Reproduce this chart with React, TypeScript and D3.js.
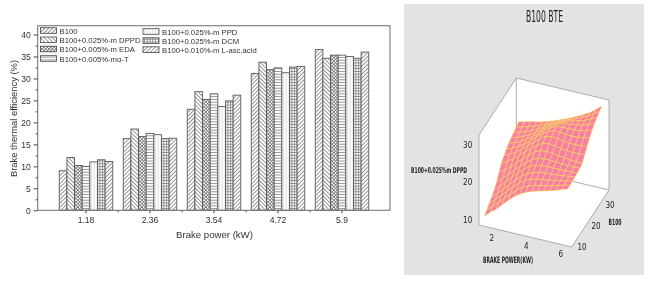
import * as React from 'react'
import * as d3 from 'd3'

const width = 649
const height = 281

const powers = ['1.18', '2.36', '3.54', '4.72', '5.9']
const blends = [
  'B100',
  'B100+0.025%-m DPPD',
  'B100+0.005%-m EDA',
  'B100+0.005%-m\u03b1-T',
  'B100+0.025%-m PPD',
  'B100+0.025%-m DCM',
  'B100+0.010%-m L-asc.acid',
]
const patternIds = ['fwd', 'back', 'cross', 'horiz', 'vert', 'grid', 'fwd']

const bte1 = [9, 12, 10.2, 10, 11, 11.5, 11.1]
const bte2 = [16.3, 18.5, 16.8, 17.5, 17.2, 16.3, 16.4]
const bte3 = [23, 27, 25.2, 26.5, 23.6, 24.9, 26.2]
const bte4 = [31.1, 33.7, 32, 32.4, 31.3, 32.6, 32.7]
const bte5 = [36.6, 34.6, 35.3, 35.3, 35, 34.6, 36]
const bteByPower = [bte1, bte2, bte3, bte4, bte5]

const yTicks = [0, 5, 10, 15, 20, 25, 30, 35, 40]
const yMinor = [2.5, 7.5, 12.5, 17.5, 22.5, 27.5, 32.5, 37.5]

// surface heights, one row per B100 step (front to back), one column per brake power step
const surface = [
  [10.8, 12.2, 13.4, 15, 16.5, 17.9, 19, 19.8, 20.4, 20.9, 21.3, 21.7, 22.2, 22.8, 23.3],
  [11.5, 12.9, 14.2, 15.8, 17.3, 18.7, 19.8, 20.5, 21, 21.4, 21.7, 22.1, 22.5, 23, 23.3],
  [12.2, 13.6, 15, 16.6, 18.1, 19.5, 20.6, 21.3, 21.7, 22, 22.2, 22.5, 22.8, 23.1, 23.4],
  [12.9, 14.3, 15.8, 17.4, 18.9, 20.3, 21.4, 22.1, 22.5, 22.7, 22.8, 22.9, 23.1, 23.3, 23.5],
  [13.8, 15.2, 16.7, 18.3, 19.8, 21.2, 22.3, 23, 23.3, 23.4, 23.4, 23.4, 23.4, 23.5, 23.6],
  [15, 16.3, 17.7, 19.2, 20.7, 22.1, 23.2, 23.9, 24.1, 24.1, 24, 23.9, 23.8, 23.8, 23.8],
  [16.5, 17.6, 18.8, 20.2, 21.6, 23, 24.2, 24.9, 25.1, 24.9, 24.7, 24.5, 24.3, 24.2, 24.2],
  [18, 18.8, 19.9, 21.1, 22.5, 23.8, 25, 25.9, 26.1, 25.9, 25.6, 25.4, 25.3, 25.3, 25.5],
  [19, 19.7, 20.6, 21.8, 23.1, 24.4, 25.7, 26.7, 27, 26.9, 26.6, 26.4, 26.4, 26.5, 26.8],
  [19.7, 20.3, 21.1, 22.2, 23.4, 24.7, 26, 27.1, 27.6, 27.6, 27.4, 27.3, 27.4, 27.7, 28],
  [20.3, 20.8, 21.5, 22.5, 23.5, 24.8, 26, 27, 27.7, 27.9, 27.9, 27.9, 28.1, 28.5, 29],
  [20.8, 21.2, 21.8, 22.6, 23.6, 24.7, 25.8, 26.7, 27.4, 27.8, 28.1, 28.3, 28.6, 29.2, 29.8],
  [21.2, 21.6, 22.1, 22.8, 23.6, 24.5, 25.4, 26.2, 26.9, 27.5, 28, 28.4, 28.9, 29.6, 30.4],
  [21.6, 22, 22.4, 23, 23.6, 24.3, 25, 25.7, 26.3, 27, 27.6, 28.3, 29, 30, 31],
  [22, 22.4, 22.8, 23.1, 23.5, 24, 24.5, 25.2, 25.8, 26.5, 27.3, 28.1, 29, 30.2, 31.5],
]

const narrow = '"Liberation Sans Narrow", "DejaVu Sans Condensed", "Liberation Sans", sans-serif'
const sans = '"Liberation Sans", Arial, sans-serif'

function addPatterns(defs) {
  const stroke = '#6a6a6a'
  const make = (id, size, draw, rotate = 0) => {
    const p = defs
      .append('pattern')
      .attr('id', id)
      .attr('patternUnits', 'userSpaceOnUse')
      .attr('width', size)
      .attr('height', size)
      .attr('patternTransform', `rotate(${rotate})`)
    p.append('rect').attr('width', size).attr('height', size).attr('fill', '#fff')
    draw(p, size)
  }
  const horizontal = (p, s) =>
    p.append('line').attr('x1', 0).attr('x2', s).attr('y1', s / 2).attr('y2', s / 2).attr('stroke', stroke).attr('stroke-width', 0.7)
  const vertical = (p, s) =>
    p.append('line').attr('y1', 0).attr('y2', s).attr('x1', s / 2).attr('x2', s / 2).attr('stroke', stroke).attr('stroke-width', 0.7)

  make('fwd', 2.8, horizontal, -45)
  make('back', 2.8, horizontal, 45)
  make('horiz', 2.8, horizontal)
  make('vert', 2.8, (p, s) => p.append('line').attr('y1', 0).attr('y2', s).attr('x1', s / 2).attr('x2', s / 2).attr('stroke', '#bdbdbd').attr('stroke-width', 0.5))
  make('grid', 2.8, (p, s) => {
    horizontal(p, s)
    vertical(p, s)
  })
  make('cross', 2.4, (p, s) => {
    horizontal(p, s)
    vertical(p, s)
  }, 45)
}

function drawBars(svg) {
  const left = 37.7
  const right = 390
  const top = 25.7
  const bottom = 210.3

  const x0 = d3.scaleBand().domain(powers).range([54, 374]).paddingInner(0.164).paddingOuter(0.082)
  const x1 = d3.scaleBand().domain(blends).range([0, x0.bandwidth()])
  const y = d3.scaleLinear().domain([0, 42]).range([bottom, top])

  const g = svg.append('g').attr('filter', 'url(#soft)')

  g.append('g')
    .selectAll('g')
    .data(powers)
    .join('g')
    .attr('transform', (d) => `translate(${x0(d)},0)`)
    .each(function (d, i) {
      d3.select(this)
        .selectAll('rect')
        .data(bteByPower[i])
        .join('rect')
        .attr('x', (v, j) => x1(blends[j]))
        .attr('y', (v) => y(v))
        .attr('width', x1.bandwidth())
        .attr('height', (v) => bottom - y(v))
        .attr('fill', (v, j) => `url(#${patternIds[j]})`)
        .attr('stroke', '#5a5a5a')
        .attr('stroke-width', 0.9)
    })

  g.append('rect')
    .attr('x', left)
    .attr('y', top)
    .attr('width', right - left)
    .attr('height', bottom - top)
    .attr('fill', 'none')
    .attr('stroke', '#7a7a7a')
    .attr('stroke-width', 1.1)

  const yAxis = g
    .append('g')
    .attr('transform', `translate(${left},0)`)
    .call(d3.axisLeft(y).tickValues(yTicks).tickSize(4).tickPadding(3))
  yAxis.select('.domain').remove()
  const yAxisMinor = g
    .append('g')
    .attr('transform', `translate(${left},0)`)
    .call(d3.axisLeft(y).tickValues(yMinor).tickSize(2).tickFormat(() => ''))
  yAxisMinor.select('.domain').remove()

  const xAxis = g
    .append('g')
    .attr('transform', `translate(0,${bottom})`)
    .call(d3.axisBottom(x0).tickSize(3).tickPadding(4))
  xAxis.select('.domain').remove()

  // minor ticks sit half way between the groups
  g.append('g')
    .selectAll('line')
    .data(powers.slice(0, 4))
    .join('line')
    .attr('x1', (d) => x0(d) + x0.step() - (x0.step() - x0.bandwidth()) / 2)
    .attr('x2', (d) => x0(d) + x0.step() - (x0.step() - x0.bandwidth()) / 2)
    .attr('y1', bottom)
    .attr('y2', bottom + 2)
    .attr('stroke', '#444')

  for (const axis of [yAxis, yAxisMinor, xAxis]) {
    axis.selectAll('text').attr('font-family', sans).attr('font-size', 8.6).attr('fill', '#333')
    axis.selectAll('line').attr('stroke', '#444')
  }

  g.append('text')
    .attr('x', 214.5)
    .attr('y', 238)
    .attr('text-anchor', 'middle')
    .attr('font-family', sans)
    .attr('font-size', 9.6)
    .attr('fill', '#333')
    .text('Brake power (kW)')

  g.append('text')
    .attr('transform', 'translate(17,118.5) rotate(-90)')
    .attr('text-anchor', 'middle')
    .attr('font-family', sans)
    .attr('font-size', 9.4)
    .attr('fill', '#333')
    .text('Brake thermal efficiency (%)')

  const legendX = [40.5, 143]
  const legendY = [30.5, 39.8, 49, 58.5, 31.5, 40.6, 49.6]
  const legend = g
    .append('g')
    .selectAll('g')
    .data(blends)
    .join('g')
    .attr('transform', (d, i) => `translate(${legendX[i < 4 ? 0 : 1]},${legendY[i]})`)
  legend
    .append('rect')
    .attr('y', -2.8)
    .attr('width', 16)
    .attr('height', 5.6)
    .attr('fill', (d, i) => `url(#${patternIds[i]})`)
    .attr('stroke', '#444')
    .attr('stroke-width', 0.8)
  legend
    .append('text')
    .attr('x', 19)
    .attr('y', 3)
    .attr('font-family', sans)
    .attr('font-size', 7.7)
    .attr('fill', '#333')
    .text((d) => d)
}

function drawSurface(svg) {
  const g = svg.append('g').attr('filter', 'url(#softer)')

  g.append('rect').attr('x', 404).attr('y', 4).attr('width', 240).attr('height', 271).attr('fill', '#e3e3e3')

  // oblique view: screen position from the three data axes
  const pMin = 0.95
  const pMax = 6.2
  const bMin = 8
  const bMax = 38
  const zMin = 8.7
  const zMax = 32.7
  const u = d3.scaleLinear().domain([pMin, pMax]).range([0, 1])
  const v = d3.scaleLinear().domain([bMin, bMax]).range([0, 1])
  const zPx = d3.scaleLinear().domain([zMin, zMax]).range([0, 90])
  const project = (p, b, z) => {
    const a = u(p)
    const c = v(b)
    return [479 + 92.7 * a + 37.3 * c, 225 + 22 * a - 57 * c - zPx(z)]
  }

  const powerSteps = d3.range(15).map((i) => d3.scaleLinear().domain([0, 14]).range([1.18, 5.9])(i))
  const blendSteps = d3.range(15).map((i) => d3.scaleLinear().domain([0, 14]).range([9, 36.6])(i))

  const box = [
    project(pMin, bMin, zMax),
    project(pMin, bMax, zMax),
    project(pMax, bMax, zMax),
    project(pMax, bMax, zMin),
    project(pMax, bMin, zMin),
    project(pMin, bMin, zMin),
  ]
  g.append('polygon').attr('points', box.join(' ')).attr('fill', '#fff')

  const line = d3.line()
  const edges = [
    [project(pMin, bMin, zMin), project(pMin, bMin, zMax), project(pMin, bMax, zMax), project(pMax, bMax, zMax), project(pMax, bMax, zMin)],
    [project(pMin, bMax, zMax), project(pMin, bMax, zMin)],
    [project(pMin, bMin, zMin), project(pMax, bMin, zMin), project(pMax, bMax, zMin), project(pMin, bMax, zMin)],
  ]
  g.append('g')
    .selectAll('path')
    .data(edges)
    .join('path')
    .attr('d', (d) => line(d))
    .attr('fill', 'none')
    .attr('stroke', '#9a9a9a')
    .attr('stroke-width', 0.8)

  const cells = []
  for (let j = 13; j >= 0; j--) {
    for (let i = 0; i < 14; i++) {
      cells.push([
        project(powerSteps[i], blendSteps[j], surface[j][i]),
        project(powerSteps[i + 1], blendSteps[j], surface[j][i + 1]),
        project(powerSteps[i + 1], blendSteps[j + 1], surface[j + 1][i + 1]),
        project(powerSteps[i], blendSteps[j + 1], surface[j + 1][i]),
      ])
    }
  }
  g.append('g')
    .selectAll('polygon')
    .data(cells)
    .join('polygon')
    .attr('points', (d) => d.join(' '))
    .attr('fill', '#f77fa5')
    .attr('stroke', '#ffe040')
    .attr('stroke-width', 0.5)

  // squeeze a label sideways to the width it has in the picture
  const label = (x, y, text, size, weight, w) => {
    const t = g
      .append('text')
      .attr('text-anchor', 'middle')
      .attr('dominant-baseline', 'central')
      .attr('font-family', narrow)
      .attr('font-size', size)
      .attr('font-weight', weight)
      .attr('fill', '#222')
      .text(text)
    const sx = w ? w / t.node().getComputedTextLength() : 1
    t.attr('transform', `translate(${x},${y}) scale(${sx},1)`)
  }

  label(544.5, 17, 'B100 BTE', 15, 400, 37)
  label(439, 171, 'B100+0.025%m DPPD', 8, 700, 56)
  label(508, 260, 'BRAKE POWER(KW)', 9, 700, 50)
  label(615, 223, 'B100', 8.5, 700, 13)

  const zTicks = [10, 20, 30]
  const zTickY = d3.scaleLinear().domain([10, 30]).range([220, 145])
  zTicks.forEach((d) => label(467.7, zTickY(d), d, 8, 400))

  const powerTicks = [2, 4, 6]
  powerTicks.forEach((d, i) => label(491.7 + i * 34.6, 238 + i * 8, d, 8, 400))

  const blendTicks = [10, 20, 30]
  blendTicks.forEach((d, i) => label(582 + i * 14, 247 - i * 21, d, 8, 400))
}

export default function App() {
  const ref = React.useRef(null)

  React.useEffect(() => {
    const svg = d3.select(ref.current)
    svg.selectAll('*').remove()
    const defs = svg.append('defs')
    addPatterns(defs)
    defs.append('filter').attr('id', 'soft').append('feGaussianBlur').attr('stdDeviation', 0.35)
    defs.append('filter').attr('id', 'softer').append('feGaussianBlur').attr('stdDeviation', 0.25)
    svg.append('rect').attr('width', width).attr('height', height).attr('fill', '#fff')
    drawBars(svg)
    drawSurface(svg)
  }, [])

  return (
    <svg
      ref={ref}
      width={width}
      height={height}
      style={{ position: 'absolute', left: 0, top: 0, display: 'block' }}
    />
  )
}
